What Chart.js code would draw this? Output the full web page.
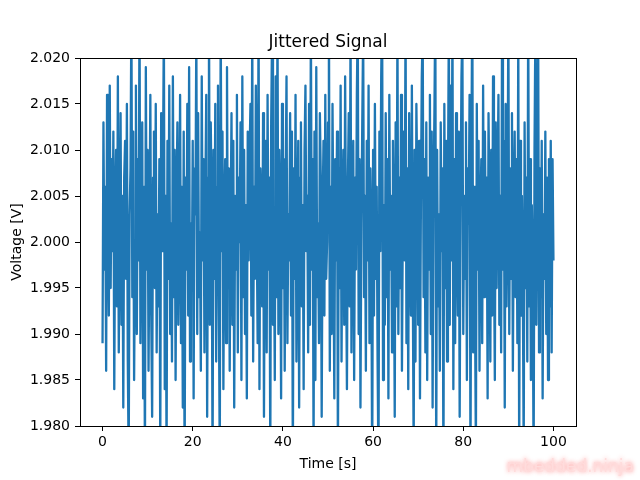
<!DOCTYPE html>
<html>
<head>
<meta charset="utf-8">
<script src="https://cdn.jsdelivr.net/npm/chart.js@4/dist/chart.umd.min.js"></script>
<style>
  html, body { margin: 0; padding: 0; background: #fff; }
  #wrap { width: 640px; height: 480px; position: relative; }
</style>
</head>
<body>
<div id="wrap"><canvas id="signalChart"></canvas></div>
<script>
// samples are 0.2 s apart, 0..100 s, split into 20 s chunks
const sampleStep = 0.2;

const volts0to20 = [
  1.989, 2.013, 1.997, 2.006, 1.986, 2.016, 2.002, 1.992, 2.017, 1.995, 2.009, 1.999, 2.012, 1.984, 2.004, 2.010, 1.993, 2.018, 1.988, 2.001,
  2.014, 1.991, 2.005, 1.982, 2.007, 2.011, 1.996, 2.015, 1.987, 1.976, 2.003, 2.008, 2.025, 1.994, 2.012, 1.985, 2.000, 2.017, 1.990, 2.009,
  1.998, 2.026, 1.989, 2.004, 2.013, 1.983, 2.006, 1.975, 2.019, 1.997, 2.010, 1.986, 2.001, 2.016, 1.992, 1.981, 2.007, 2.012, 1.995, 2.015,
  1.988, 2.003, 1.993, 2.009, 1.977, 2.014, 1.999, 2.008, 2.024, 1.984, 2.005, 1.976, 2.011, 1.996, 2.017, 1.990, 2.002, 1.987, 2.018, 1.994,
  2.010, 1.985, 2.004, 2.013, 1.991, 2.000, 2.016, 1.989, 2.006, 1.982, 2.012, 1.974, 2.007, 1.997, 2.015, 1.992, 2.019, 1.987, 2.002, 1.995
];
const volts20to40 = [
  2.011, 1.983, 2.008, 2.003, 2.023, 1.990, 2.014, 1.994, 2.001, 1.986, 2.018, 1.998, 2.009, 1.988, 2.005, 2.016, 1.981, 2.007, 2.027, 1.991,
  2.013, 2.004, 1.975, 2.010, 1.996, 2.015, 1.987, 2.006, 2.017, 1.993, 1.976, 2.025, 1.999, 2.012, 1.984, 2.003, 2.009, 1.989, 2.019, 1.995,
  2.008, 1.986, 2.002, 2.014, 1.991, 2.011, 1.982, 2.005, 1.997, 2.016, 1.988, 2.007, 2.000, 2.013, 1.985, 2.018, 1.994, 2.010, 1.990, 2.004,
  1.983, 2.012, 1.998, 2.009, 2.015, 1.992, 2.024, 1.987, 2.006, 1.996, 2.017, 2.001, 1.989, 2.026, 1.984, 2.008, 2.003, 1.993, 2.014, 1.981,
  2.005, 2.011, 1.988, 2.016, 1.997, 2.007, 1.976, 2.013, 2.023, 1.991, 2.002, 1.985, 2.018, 1.994, 2.025, 1.990, 2.010, 2.004, 1.983, 2.015
];
const volts40to60 = [
  1.995, 2.009, 1.986, 2.006, 2.018, 1.989, 2.003, 1.998, 2.014, 1.992, 2.012, 1.975, 2.008, 1.996, 2.016, 1.987, 2.001, 2.011, 1.982, 2.007,
  2.013, 1.993, 2.004, 1.984, 2.010, 2.017, 1.999, 2.005, 1.988, 2.015, 1.991, 2.024, 1.997, 2.009, 1.977, 2.012, 1.985, 2.019, 1.994, 2.002,
  1.989, 2.014, 2.007, 1.981, 2.003, 2.011, 1.992, 2.016, 1.996, 2.000, 2.013, 2.027, 1.986, 2.006, 1.990, 2.015, 2.001, 1.983, 2.009, 1.998,
  2.012, 1.976, 2.008, 1.995, 2.017, 1.987, 2.004, 2.010, 1.991, 2.018, 1.999, 1.984, 2.006, 2.014, 1.993, 2.024, 1.988, 2.003, 2.011, 1.985,
  2.007, 1.997, 2.016, 2.025, 1.990, 2.009, 1.982, 2.002, 2.013, 2.023, 1.994, 2.005, 1.986, 2.011, 1.998, 2.017, 1.989, 2.008, 2.001, 1.974
];
const volts60to80 = [
  2.010, 1.992, 2.015, 1.996, 2.006, 1.987, 1.975, 2.012, 1.999, 2.018, 2.026, 1.985, 2.004, 1.991, 2.014, 1.994, 2.009, 1.983, 2.016, 1.997,
  2.005, 1.988, 2.011, 2.002, 1.981, 2.013, 1.993, 2.024, 1.990, 2.007, 1.995, 2.016, 1.986, 2.003, 2.012, 1.998, 2.025, 1.989, 2.008, 1.984,
  2.014, 2.000, 1.992, 2.017, 1.996, 1.977, 2.010, 1.987, 2.015, 2.006, 1.991, 2.011, 1.983, 2.004, 2.018, 2.023, 1.994, 2.009, 1.988, 2.013,
  1.985, 2.007, 1.997, 2.016, 1.990, 2.012, 1.982, 2.005, 2.014, 2.026, 1.976, 2.010, 1.993, 2.003, 1.986, 2.013, 1.999, 2.008, 1.974, 2.015,
  1.995, 2.011, 1.987, 2.006, 2.024, 1.991, 2.017, 1.998, 2.025, 1.984, 2.009, 1.989, 2.014, 2.001, 1.992, 2.012, 1.981, 2.004, 2.018, 2.023
];
const volts80to100 = [
  1.990, 2.005, 1.996, 2.013, 1.985, 2.008, 2.002, 2.016, 1.975, 2.010, 2.027, 1.988, 2.006, 1.993, 1.977, 2.015, 1.997, 2.011, 1.986, 2.003,
  2.009, 1.989, 2.017, 1.994, 2.012, 1.998, 2.007, 1.983, 2.014, 2.004, 1.987, 2.010, 1.992, 2.018, 2.000, 1.985, 2.013, 1.995, 2.006, 2.016,
  1.991, 2.005, 1.988, 2.024, 1.997, 2.011, 1.982, 2.015, 1.993, 2.002, 2.025, 1.990, 2.008, 1.996, 2.014, 1.986, 2.004, 2.012, 1.994, 2.009,
  1.989, 2.023, 1.976, 2.011, 1.992, 2.005, 1.996, 1.977, 2.013, 1.995, 2.007, 1.987, 2.026, 1.993, 2.009, 1.985, 2.004, 1.997, 1.975, 2.010,
  2.024, 1.991, 2.006, 2.025, 1.988, 2.008, 1.994, 2.011, 1.983, 2.003, 1.996, 2.012, 1.990, 2.007, 1.985, 2.009, 1.993, 2.011, 1.988, 2.009,
  1.998
];

const yTicks = [1.980, 1.985, 1.990, 1.995, 2.000, 2.005, 2.010, 2.015, 2.020];
const xTicks = [0, 20, 40, 60, 80, 100];

const voltages = [].concat(volts0to20, volts20to40, volts40to60, volts60to80, volts80to100);
const points = voltages.map((v, i) => ({x: i * sampleStep, y: v}));

const FONT = "'DejaVu Sans', sans-serif";

// matplotlib style: box round the axes, title centred on axes, watermark
const framePlugin = {
  id: 'frame',
  afterDraw(chart) {
    const {ctx, chartArea} = chart;
    ctx.save();
    ctx.strokeStyle = '#000';
    ctx.lineWidth = 1;
    ctx.strokeRect(Math.round(chartArea.left) + 0.5, Math.round(chartArea.top) + 0.5,
      Math.round(chartArea.right - chartArea.left), Math.round(chartArea.bottom - chartArea.top));

    ctx.fillStyle = '#000';
    ctx.font = '17px ' + FONT;
    ctx.textAlign = 'center';
    ctx.textBaseline = 'middle';
    ctx.fillText('Jittered Signal', (chartArea.left + chartArea.right) / 2, 43);

    ctx.textAlign = 'right';
    ctx.shadowColor = 'rgba(255, 120, 120, 0.9)';
    ctx.shadowBlur = 4;
    ctx.fillStyle = 'rgba(255, 220, 220, 1)';
    ctx.fillText('mbedded.ninja', 634, 468);
    ctx.restore();
  }
};

new Chart(document.getElementById('signalChart'), {
  type: 'line',
  data: {
    datasets: [{
      data: points,
      borderColor: '#1f77b4',
      borderWidth: 2.3,
      borderJoinStyle: 'round',
      pointRadius: 0,
      tension: 0,
      fill: false,
      clip: 0
    }]
  },
  options: {
    responsive: true,
    maintainAspectRatio: false,
    animation: false,
    events: [],
    layout: { padding: { left: 0, right: 64, top: 58, bottom: 0 } },
    plugins: {
      legend: { display: false },
      tooltip: { enabled: false },
      title: { display: false }
    },
    scales: {
      x: {
        type: 'linear',
        min: -5,
        max: 105,
        afterBuildTicks: (scale) => { scale.ticks = xTicks.map(v => ({value: v})); },
        afterFit: (scale) => { scale.height = 54; },
        grid: { drawOnChartArea: false, drawTicks: true, tickLength: 5, tickColor: '#000' },
        border: { display: false },
        ticks: { color: '#000', font: { family: FONT, size: 14 }, padding: 3, maxRotation: 0 },
        title: {
          display: true,
          text: 'Time [s]',
          color: '#000',
          font: { family: FONT, size: 14 },
          padding: { top: 0, bottom: 7.6 }
        }
      },
      y: {
        type: 'linear',
        min: 1.980,
        max: 2.020,
        afterBuildTicks: (scale) => { scale.ticks = yTicks.map(v => ({value: v})); },
        afterFit: (scale) => { scale.width = 80; },
        grid: { drawOnChartArea: false, drawTicks: true, tickLength: 5, tickColor: '#000' },
        border: { display: false },
        ticks: {
          color: '#000',
          font: { family: FONT, size: 14 },
          padding: 5,
          callback: (v) => v.toFixed(3)
        },
        title: {
          display: true,
          text: 'Voltage [V]',
          color: '#000',
          font: { family: FONT, size: 14 },
          padding: { top: 8.6, bottom: 0 }
        }
      }
    }
  },
  plugins: [framePlugin]
});
</script>
</body>
</html>
